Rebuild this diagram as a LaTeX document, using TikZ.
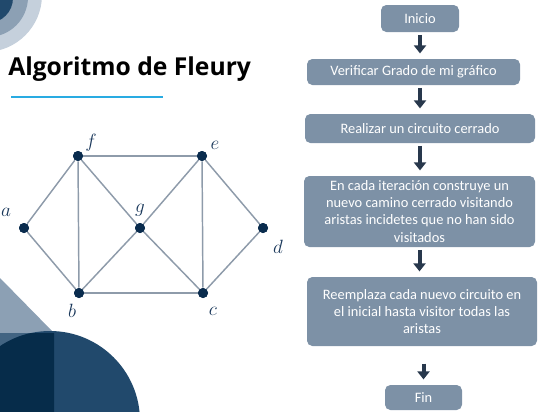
\documentclass[tikz,border=0pt]{standalone}
\usepackage{fontspec}
\setmainfont{Carlito}
\newfontfamily\titlefont{Open Sans}
\usepackage{tikz}
\usetikzlibrary{arrows.meta, positioning}

\definecolor{boxgray}{RGB}{125,145,166}
\definecolor{arrowdark}{RGB}{40,56,76}
\definecolor{vertexblue}{RGB}{10,44,78}
\definecolor{edgegray}{RGB}{142,155,170}
\definecolor{labelblue}{RGB}{25,55,90}
\definecolor{lineblue}{RGB}{41,171,226}
\definecolor{decolight}{RGB}{197,208,220}
\definecolor{decomid}{RGB}{140,160,180}
\definecolor{decodark}{RGB}{33,73,108}
\definecolor{decodeep}{RGB}{6,44,74}

\tikzset{
  stepbox/.style={rectangle, rounded corners=4pt, fill=boxgray, text=white,
    font=\fontsize{10.8}{12.8}\selectfont, align=center, inner sep=0pt},
  flowarrow/.style={draw=arrowdark, line width=3pt,
    -{Triangle[width=9pt,length=6pt]}, shorten <=2pt, shorten >=4pt},
  vertex/.style={circle, fill=vertexblue, inner sep=0pt, minimum size=7.5pt},
  edge/.style={draw=edgegray, line width=1.1pt},
  vlabel/.style={text=labelblue, font=\fontsize{15}{17}\selectfont, inner sep=0pt}
}

\begin{document}
\begin{tikzpicture}[x=0.75pt,y=0.75pt,yscale=-1,xscale=1]
\useasboundingbox (0,0) rectangle (546,411);

% corner decorations
\fill [decolight] (-15,-5) circle (57);
\fill [decomid] (-12,-3) circle (40);
\fill [decodark] (-12,-2) circle (25);
\fill [decomid] (0,278) -- (54,333) -- (0,333) -- cycle;
\fill [decodark!85] (0,333) rectangle (54,411);
\fill [decodark] (50,421) circle (90);
\begin{scope}
  \clip (0,333) rectangle (54,411);
  \fill [decodeep] (50,421) circle (90);
\end{scope}

% title
\node [anchor=base west, inner sep=0pt, font=\titlefont\bfseries\fontsize{18.5}{22}\selectfont] (title) at (8,75) {Algoritmo de Fleury};
\coordinate (rulestart) at (11,97);
\coordinate (ruleend) at (163,97);
\draw [lineblue, line width=1.1pt] (rulestart) -- (ruleend);

% graph
\node [vertex] (f) at (78,156) {};
\node [vertex] (e) at (202,156) {};
\node [vertex] (a) at (24,228) {};
\node [vertex] (g) at (140,228) {};
\node [vertex] (d) at (263,228) {};
\node [vertex] (b) at (79,293) {};
\node [vertex] (c) at (203,293) {};

\foreach \u/\v in {a/f, a/b, f/e, f/b, f/g, e/g, e/c, e/d, d/c, b/g, g/c, b/c}
  \draw [edge] (\u) -- (\v);
\foreach \v in {f,e,a,g,d,b,c}
  \node [vertex] at (\v) {};

\node [vlabel] (lf) at (91,143) {$f$};
\node [vlabel] (le) at (215,145) {$e$};
\node [vlabel] (la) at (6,212) {$a$};
\node [vlabel] (lg) at (140,210) {$g$};
\node [vlabel] (ld) at (278,247) {$d$};
\node [vlabel] (lb) at (72,311) {$b$};
\node [vlabel] (lc) at (213,311) {$c$};

% flowchart
\node [stepbox, minimum width=78*0.75pt, minimum height=27*0.75pt] (inicio) at (420,18.5) {Inicio};
\node [stepbox, minimum width=213*0.75pt, minimum height=26*0.75pt] (verificar) at (413.5,72) {Verificar Grado de mi gráfico};
\node [stepbox, minimum width=230*0.75pt, minimum height=29*0.75pt] (realizar) at (420,128.5) {Realizar un circuito cerrado};
\node [stepbox, minimum width=231*0.75pt, minimum height=71*0.75pt] (iteracion) at (419.5,211.5) {En cada iteración construye un\\nuevo camino cerrado visitando\\aristas incidetes que no han sido\\visitados};
\node [stepbox, minimum width=230*0.75pt, minimum height=69*0.75pt] (reemplaza) at (422,311.5) {Reemplaza cada nuevo circuito en\\el inicial hasta visitor todas las\\aristas};
\node [stepbox, minimum width=77*0.75pt, minimum height=25*0.75pt] (fin) at (423.5,397.5) {Fin};

\draw [flowarrow] (inicio.south) -- (inicio.south |- verificar.north);
\draw [flowarrow] (verificar.south -| inicio.south) -- (realizar.north -| inicio.south);
\draw [flowarrow] (realizar.south) -- (iteracion.north -| realizar.south);
\draw [flowarrow] (iteracion.south) -- (reemplaza.north -| iteracion.south);
\draw [flowarrow, shorten <=13pt] (reemplaza.south -| fin.north) -- (fin.north);

\end{tikzpicture}
\end{document}
